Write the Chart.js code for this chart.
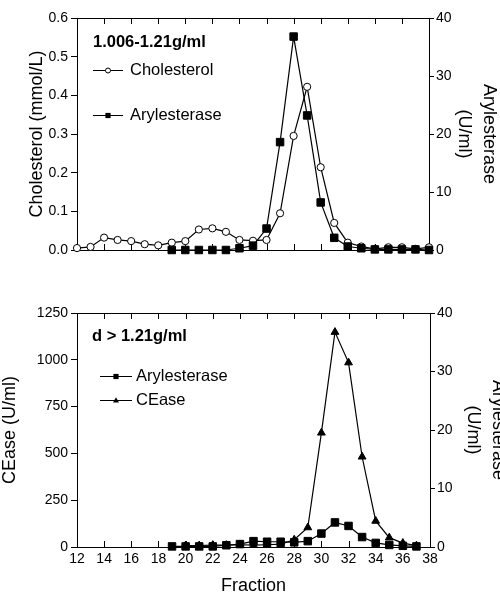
<!DOCTYPE html>
<html>
<head>
<meta charset="utf-8">
<script src="https://cdn.jsdelivr.net/npm/chart.js@4.4.1/dist/chart.umd.min.js"></script>
<style>
    body { margin: 0; background: #fff; }
    canvas { position: absolute; left: 0; }
    #topChart { top: 0; }
    #bottomChart { top: 297px; }
</style>
</head>
<body>
<canvas id="topChart" width="500" height="297"></canvas>
<canvas id="bottomChart" width="500" height="297"></canvas>
<script>
// valores
const fractionsChol = [12, 13, 14, 15, 16, 17, 18, 19, 20, 21, 22, 23, 24, 25, 26, 27, 28, 29, 30, 31, 32, 33, 34, 35, 36, 37, 38];
const cholesterolTop = [0.005, 0.008, 0.032, 0.026, 0.023, 0.015, 0.012, 0.019, 0.023, 0.053, 0.056, 0.047, 0.026, 0.024, 0.026, 0.095, 0.295, 0.422, 0.214, 0.07, 0.019, 0.009, 0.003, 0.007, 0.007, 0.003, 0.007];

const fractionsArylTop = [19, 20, 21, 22, 23, 24, 25, 26, 27, 28, 29, 30, 31, 32, 33, 34, 35, 36, 37, 38];
const arylesteraseTop = [0, 0, 0, 0, 0, 0.3, 0.75, 3.7, 18.6, 36.8, 23.2, 8.2, 2.1, 0.6, 0.3, 0.1, 0.1, 0.1, 0.1, 0];

const fractionsArylBottom = [19, 20, 21, 22, 23, 24, 25, 26, 27, 28, 29, 30, 31, 32, 33, 34, 35, 36, 37];
const arylesteraseBottom = [0.1, 0.1, 0.1, 0.1, 0.3, 0.5, 1.0, 0.9, 0.9, 0.8, 1.0, 2.3, 4.2, 3.6, 1.7, 0.7, 0.35, 0.2, 0.1];

const fractionsCEase = [20, 21, 22, 23, 24, 25, 26, 27, 28, 29, 30, 31, 32, 33, 34, 35, 36, 37];
const ceaseBottom = [8, 8, 10, 10, 12, 10, 12, 15, 39, 104, 610, 1148, 985, 482, 139, 50, 21, 7];

const fractionTicks = [12, 14, 16, 18, 20, 22, 24, 26, 28, 30, 32, 34, 36, 38];
const cholTickLabels = ['0.0', '0.1', '0.2', '0.3', '0.4', '0.5', '0.6'];

const FONT = 'Liberation Sans, Arial, sans-serif';
Chart.defaults.font.family = FONT;
Chart.defaults.color = '#000';

function toPoints(xs, ys) {
    return xs.map((x, i) => ({ x: x, y: ys[i] }));
}

function drawMarker(ctx, style, x, y, r) {
    ctx.beginPath();
    if (style === 'circle') {
        ctx.arc(x, y, r, 0, Math.PI * 2);
        ctx.fillStyle = '#fff';
        ctx.fill();
        ctx.stroke();
    } else if (style === 'rect') {
        ctx.fillStyle = '#000';
        ctx.fillRect(x - r, y - r, 2 * r, 2 * r);
    } else {
        ctx.moveTo(x, y - r * 1.1);
        ctx.lineTo(x + r, y + r * 0.7);
        ctx.lineTo(x - r, y + r * 0.7);
        ctx.closePath();
        ctx.fillStyle = '#000';
        ctx.fill();
    }
}

// ticks hacia dentro + leyenda dentro del área
const panelDecor = {
    id: 'panelDecor',
    beforeDatasetsDraw(chart) {
        const { ctx, chartArea } = chart;
        const xs = chart.scales.x;
        ctx.save();
        ctx.strokeStyle = '#000';
        ctx.lineWidth = 1;
        ctx.beginPath();
        fractionTicks.forEach(v => {
            if (v === xs.min || v === xs.max) return;
            const px = Math.round(xs.getPixelForValue(v)) + 0.5;
            ctx.moveTo(px, chartArea.top);
            ctx.lineTo(px, chartArea.top + 6);
            ctx.moveTo(px, chartArea.bottom);
            ctx.lineTo(px, chartArea.bottom - 6);
        });
        ctx.stroke();
        ctx.restore();
    },
    afterDatasetsDraw(chart, args, opts) {
        const ctx = chart.ctx;
        ctx.save();
        ctx.textBaseline = 'middle';
        ctx.textAlign = 'left';
        ctx.fillStyle = '#000';
        ctx.font = 'bold 16.5px ' + FONT;
        ctx.fillText(opts.heading, opts.headingX, opts.headingY);
        ctx.font = '16.5px ' + FONT;
        opts.items.forEach(item => {
            ctx.strokeStyle = '#000';
            ctx.lineWidth = 1;
            ctx.beginPath();
            ctx.moveTo(item.x0, item.y + 0.5);
            ctx.lineTo(item.x1, item.y + 0.5);
            ctx.stroke();
            drawMarker(ctx, item.style, (item.x0 + item.x1) / 2, item.y + 0.5, item.r);
            ctx.fillStyle = '#000';
            ctx.fillText(item.label, item.textX, item.y);
        });
        ctx.restore();
    }
};

function yAxis(position, min, max, step, width, title, titlePad, callback) {
    return {
        type: 'linear',
        position: position,
        min: min,
        max: max,
        ticks: { stepSize: step, font: { size: 14 }, padding: position === 'left' ? 3 : 2, callback: callback },
        grid: { drawOnChartArea: false, drawTicks: true, tickLength: position === 'left' ? 6 : 5, color: '#000' },
        border: { display: true, color: '#000', width: 1 },
        title: { display: true, text: title, font: { size: 18, lineHeight: 1.4 }, padding: { top: titlePad, bottom: 0 } },
        afterFit: s => { s.width = width; }
    };
}

function xAxes(showLabels, bottomHeight, topHeight) {
    return {
        x: {
            type: 'linear',
            position: 'bottom',
            min: 12,
            max: 38,
            ticks: { display: showLabels, stepSize: 2, font: { size: 14 }, padding: 4, maxRotation: 0 },
            grid: { display: false, drawTicks: false },
            border: { display: true, color: '#000', width: 1 },
            title: { display: showLabels, text: 'Fraction', font: { size: 18 }, padding: { top: 0, bottom: -2.5 } },
            afterFit: s => { s.height = bottomHeight; }
        },
        xTop: {
            type: 'linear',
            position: 'top',
            min: 12,
            max: 38,
            ticks: { display: false },
            grid: { display: false, drawTicks: false },
            border: { display: true, color: '#000', width: 1 },
            afterFit: s => { s.height = topHeight; }
        }
    };
}

const lineStyle = { borderColor: '#000', borderWidth: 1.2, tension: 0, clip: false, pointBorderColor: '#000', pointBorderWidth: 1 };

// panel superior
const topScales = xAxes(false, 47, 18);
topScales.y = yAxis('left', 0, 0.6, 0.1, 77, 'Cholesterol (mmol/L)', 24, (v, i) => cholTickLabels[i]);
topScales.y1 = yAxis('right', 0, 40, 10, 71, ['Arylesterase', '(U/ml)'], -1.6);

new Chart(document.getElementById('topChart'), {
    type: 'line',
    data: {
        datasets: [
            Object.assign({
                label: 'Arylesterase',
                data: toPoints(fractionsArylTop, arylesteraseTop),
                yAxisID: 'y1',
                pointStyle: 'rect',
                pointRadius: 5.3,
                pointBackgroundColor: '#000'
            }, lineStyle),
            Object.assign({
                label: 'Cholesterol',
                data: toPoints(fractionsChol, cholesterolTop),
                yAxisID: 'y',
                pointStyle: 'circle',
                pointRadius: 3.6,
                pointBackgroundColor: '#fff'
            }, lineStyle)
        ]
    },
    options: {
        responsive: false,
        animation: false,
        layout: { padding: 0 },
        scales: topScales,
        plugins: {
            legend: { display: false },
            tooltip: { enabled: false },
            panelDecor: {
                heading: '1.006-1.21g/ml', headingX: 93, headingY: 42,
                items: [
                    { label: 'Cholesterol', style: 'circle', r: 2.5, x0: 93, x1: 123, y: 70, textX: 130 },
                    { label: 'Arylesterase', style: 'rect', r: 2.6, x0: 93, x1: 123, y: 115, textX: 130 }
                ]
            }
        }
    },
    plugins: [panelDecor]
});

// panel inferior
const bottomScales = xAxes(true, 47, 16);
bottomScales.y = yAxis('left', 0, 1250, 250, 77, 'CEase (U/ml)', -3);
bottomScales.y1 = yAxis('right', 0, 40, 10, 70, ['Arylesterase', '(U/ml)'], -10.6);

new Chart(document.getElementById('bottomChart'), {
    type: 'line',
    data: {
        datasets: [
            Object.assign({
                label: 'Arylesterase',
                data: toPoints(fractionsArylBottom, arylesteraseBottom),
                yAxisID: 'y1',
                pointStyle: 'rect',
                pointRadius: 5.3,
                pointBackgroundColor: '#000'
            }, lineStyle),
            Object.assign({
                label: 'CEase',
                data: toPoints(fractionsCEase, ceaseBottom),
                yAxisID: 'y',
                pointStyle: 'triangle',
                pointRadius: 4.5,
                pointBackgroundColor: '#000'
            }, lineStyle)
        ]
    },
    options: {
        responsive: false,
        animation: false,
        layout: { padding: 0 },
        scales: bottomScales,
        plugins: {
            legend: { display: false },
            tooltip: { enabled: false },
            panelDecor: {
                heading: 'd > 1.21g/ml', headingX: 92, headingY: 39.5,
                items: [
                    { label: 'Arylesterase', style: 'rect', r: 2.6, x0: 100, x1: 132, y: 79, textX: 136 },
                    { label: 'CEase', style: 'tri', r: 3, x0: 100, x1: 132, y: 103, textX: 136 }
                ]
            }
        }
    },
    plugins: [panelDecor]
});
</script>
</body>
</html>
